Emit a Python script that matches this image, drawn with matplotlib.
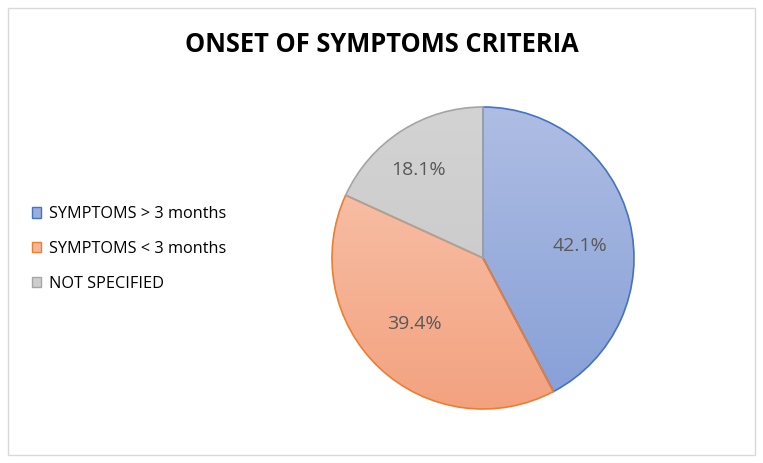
import numpy as np
import matplotlib
matplotlib.use("Agg")
import matplotlib.pyplot as plt
from matplotlib.patches import Patch, Rectangle
from matplotlib.colors import to_rgb

plt.rcParams['font.family'] = ['Open Sans', 'DejaVu Sans']

# data
labels = ["SYMPTOMS > 3 months", "SYMPTOMS < 3 months", "NOT SPECIFIED"]
shares = [42.1, 39.4, 18.1]

# fill gradients (top, bottom) and outline colours
grad_top = ["#AEBDE3", "#F9C8B2", "#D3D3D3"]
grad_bottom = ["#869FD7", "#F3A27F", "#C6C6C6"]
edges = ["#4472C4", "#ED7D31", "#A5A5A5"]

W, H = 763, 463
fig = plt.figure(figsize=(W / 100, H / 100), dpi=100)

# outer chart border
fig.patches.append(Rectangle((8 / W, 8 / H), (W - 16) / W, (H - 16) / H,
                             transform=fig.transFigure, fill=False,
                             edgecolor="#D9D9D9", linewidth=1))

fig.text(0.5, 1 - 44 / H, "ONSET OF SYMPTOMS CRITERIA", ha="center", va="center",
         fontsize=18.4, fontweight="bold", color="black")

# pie axes: centre (483, 258) px, radius 151 px
cx, cy, r = 483, 258, 151
pad = 1.05
ax = fig.add_axes([(cx - r * pad) / W, (H - cy - r * pad) / H, 2 * r * pad / W, 2 * r * pad / H])

total = sum(shares)
wedges, texts, autotexts = ax.pie(shares, startangle=90, counterclock=False,
                                  autopct=lambda p: f"{p * total / 100:.1f}%",
                                  pctdistance=0.66,
                                  wedgeprops=dict(linewidth=1.2),
                                  textprops=dict(fontsize=14, color="#595959"))

# small nudges so the labels sit where Excel put them
nudges = [(0.0, -0.08), (0.0, 0.04), (-0.07, 0.03)]
for t, (dx, dy) in zip(autotexts, nudges):
    x, y = t.get_position()
    t.set_position((x + dx, y + dy))

for w, top, bot, ec in zip(wedges, grad_top, grad_bottom, edges):
    t = np.linspace(0, 1, 256)[:, None]
    c = (1 - t) * np.array(to_rgb(top)) + t * np.array(to_rgb(bot))
    img = ax.imshow(c[:, None, :].repeat(2, axis=1), extent=(-1, 1, -1, 1),
                    aspect="auto", zorder=w.get_zorder() - 0.1, origin="upper")
    img.set_clip_path(w)
    w.set_facecolor("none")
    w.set_edgecolor(ec)
ax.set_xlim(-pad, pad)
ax.set_ylim(-pad, pad)
ax.set_aspect("auto")
ax.axis("off")

handles = [Patch(facecolor=(np.array(to_rgb(t)) + np.array(to_rgb(b))) / 2, edgecolor=e, linewidth=1)
           for t, b, e in zip(grad_top, grad_bottom, edges)]
fig.legend(handles, labels, loc="center left", bbox_to_anchor=(17 / W, 1 - 249 / H),
           frameon=False, fontsize=11.7, handlelength=0.6, handleheight=0.6,
           handletextpad=0.45, labelspacing=1.15, labelcolor="#000000")

fig.savefig("out.png", dpi=100)
